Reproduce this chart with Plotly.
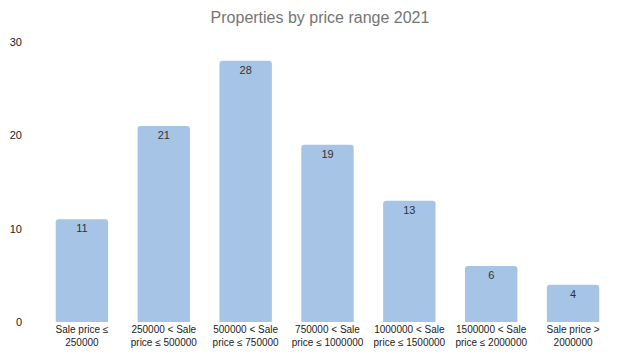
import plotly.graph_objects as go

categories = ["Sale price ≤<br>250000", "250000 < Sale<br>price ≤ 500000", "500000 < Sale<br>price ≤ 750000",
              "750000 < Sale<br>price ≤ 1000000", "1000000 < Sale<br>price ≤ 1500000",
              "1500000 < Sale<br>price ≤ 2000000", "Sale price ><br>2000000"]
values = [11, 21, 28, 19, 13, 6, 4]
y_ticks = [0, 10, 20, 30]

fig = go.Figure(go.Bar(
    x=categories, y=values, text=[str(v) for v in values],
    textposition="inside", insidetextanchor="end",
    textfont=dict(color="#333333", size=11, family="Liberation Sans, Arial"),
    marker=dict(color="#a6c4e6", cornerradius=3, line=dict(width=0)),
    hoverinfo="skip",
))
fig.update_layout(
    width=624, height=348,
    margin=dict(l=33, r=18, t=34, b=34, autoexpand=False),
    paper_bgcolor="white", plot_bgcolor="white",
    bargap=0.36,
    showlegend=False,
    title=dict(text="Properties by price range 2021", x=0.5, xanchor="center", y=0.974, yanchor="middle",
               font=dict(family="Liberation Sans, Arial", size=16, color="#757575")),
    font=dict(family="Liberation Sans, Arial", size=11, color="#222222"),
    yaxis=dict(range=[0, 30], tickvals=y_ticks, showgrid=False, zeroline=False, showline=False,
               automargin=False, ticklabelstandoff=18, tickfont=dict(size=11, color="#222222")),
    xaxis=dict(showgrid=False, showline=False, tickangle=0, automargin=False,
               tickfont=dict(size=10, color="#222222")),
)
fig.write_html("out.html")
